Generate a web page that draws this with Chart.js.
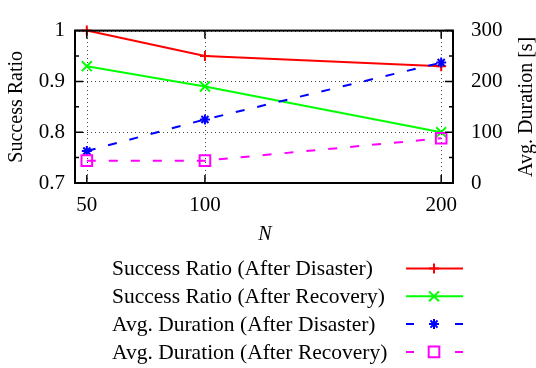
<!DOCTYPE html>
<html>
<head>
<meta charset="utf-8">
<script src="https://cdn.jsdelivr.net/npm/chart.js@4/dist/chart.umd.min.js"></script>
<style>
  body { margin: 0; background: #fff; }
  #wrap { width: 536px; height: 368px; }
</style>
</head>
<body>
<div id="wrap"><canvas id="chart" width="536" height="368"></canvas></div>
<script>
// values
const nValues = [50, 100, 200];
const ratioDisaster = [1.0, 0.95, 0.93];
const ratioRecovery = [0.93, 0.89, 0.80];
const durationDisaster = [63, 125, 237];
const durationRecovery = [44, 44, 88];

const xTicks = [50, 100, 200];
const ratioTicks = [0.7, 0.8, 0.9, 1];
const ratioMinor = [0.75, 0.85, 0.95];
const durationTicks = [0, 100, 200, 300];
const durationMinor = [50, 150, 250];

const seriesLabels = [
  'Success Ratio (After Disaster)',
  'Success Ratio (After Recovery)',
  'Avg. Duration (After Disaster)',
  'Avg. Duration (After Recovery)'
];

const FONT = '"Liberation Serif", "Times New Roman", serif';

function points(ys) {
  return nValues.map(function (n, i) { return { x: n, y: ys[i] }; });
}

function fixTicks(values) {
  return function (scale) {
    scale.ticks = values.map(function (v) { return { value: v }; });
  };
}

// gnuplot style marker, used for the legend samples
function drawMarker(ctx, style, r, x, y) {
  ctx.beginPath();
  if (style === 'cross' || style === 'star') {
    ctx.moveTo(x - r, y); ctx.lineTo(x + r, y);
    ctx.moveTo(x, y - r); ctx.lineTo(x, y + r);
  }
  if (style === 'crossRot' || style === 'star') {
    var d = r * Math.SQRT1_2;
    ctx.moveTo(x - d, y - d); ctx.lineTo(x + d, y + d);
    ctx.moveTo(x - d, y + d); ctx.lineTo(x + d, y - d);
  }
  if (style === 'rect') {
    var s = r * Math.SQRT1_2;
    ctx.rect(x - s, y - s, 2 * s, 2 * s);
  }
  ctx.stroke();
}

var gnuFrame = {
  id: 'gnuFrame',
  beforeDatasetsDraw: function (chart) {
    var ctx = chart.ctx, a = chart.chartArea;
    var sx = chart.scales.x, sy = chart.scales.y;
    ctx.save();
    ctx.strokeStyle = '#444';
    ctx.lineWidth = 1;
    ctx.setLineDash([1, 3]);
    xTicks.forEach(function (v) {
      var px = Math.round(sx.getPixelForValue(v)) + 0.5;
      ctx.beginPath(); ctx.moveTo(px, a.bottom); ctx.lineTo(px, a.top); ctx.stroke();
    });
    ratioTicks.forEach(function (v) {
      var py = Math.round(sy.getPixelForValue(v)) + 0.5;
      ctx.beginPath(); ctx.moveTo(a.left, py); ctx.lineTo(a.right, py); ctx.stroke();
    });
    ctx.restore();
  },
  afterDatasetsDraw: function (chart) {
    var ctx = chart.ctx, a = chart.chartArea;
    var sx = chart.scales.x, sy = chart.scales.y, sy1 = chart.scales.y1;
    ctx.save();
    ctx.strokeStyle = '#000';
    ctx.lineWidth = 1.5;
    ctx.setLineDash([]);
    ctx.beginPath();
    xTicks.forEach(function (v) {
      var px = sx.getPixelForValue(v);
      ctx.moveTo(px, a.bottom); ctx.lineTo(px, a.bottom - 8);
      ctx.moveTo(px, a.top); ctx.lineTo(px, a.top + 8);
    });
    ratioTicks.forEach(function (v) {
      var py = sy.getPixelForValue(v);
      ctx.moveTo(a.left, py); ctx.lineTo(a.left + 8, py);
    });
    ratioMinor.forEach(function (v) {
      var py = sy.getPixelForValue(v);
      ctx.moveTo(a.left, py); ctx.lineTo(a.left + 4, py);
    });
    durationTicks.forEach(function (v) {
      var py = sy1.getPixelForValue(v);
      ctx.moveTo(a.right, py); ctx.lineTo(a.right - 8, py);
    });
    durationMinor.forEach(function (v) {
      var py = sy1.getPixelForValue(v);
      ctx.moveTo(a.right, py); ctx.lineTo(a.right - 4, py);
    });
    ctx.stroke();
    ctx.lineWidth = 2;
    ctx.strokeRect(a.left, a.top, a.right - a.left, a.bottom - a.top);
    ctx.restore();
  },
  afterDraw: function (chart) {
    var ctx = chart.ctx, a = chart.chartArea;
    var midY = (a.top + a.bottom) / 2;
    ctx.save();
    ctx.fillStyle = '#000';
    ctx.textAlign = 'center';
    ctx.textBaseline = 'middle';

    ctx.font = '20px ' + FONT;
    ctx.save();
    ctx.translate(17, midY);
    ctx.rotate(-Math.PI / 2);
    ctx.fillText('Success Ratio', 0, 0);
    ctx.restore();

    ctx.save();
    ctx.translate(527, midY);
    ctx.rotate(-Math.PI / 2);
    ctx.fillText('Avg. Duration [s]', 0, 0);
    ctx.restore();

    ctx.font = 'italic 20px ' + FONT;
    ctx.fillText('N', (a.left + a.right) / 2 + 1, 235);

    // legend: text on the left, line sample on the right
    ctx.font = '21.5px ' + FONT;
    ctx.textAlign = 'left';
    chart.data.datasets.forEach(function (ds, i) {
      var y = 268.5 + i * 27.8;
      ctx.fillStyle = '#000';
      ctx.fillText(ds.label, 112, y + 1);
      ctx.strokeStyle = ds.borderColor;
      ctx.lineWidth = 2;
      ctx.setLineDash(ds.legendDash || []);
      ctx.beginPath(); ctx.moveTo(406, y); ctx.lineTo(463, y); ctx.stroke();
      ctx.setLineDash([]);
      ctx.lineWidth = ds.pointBorderWidth;
      drawMarker(ctx, ds.pointStyle, ds.pointRadius, 434, y);
    });
    ctx.restore();
  }
};

function series(label, axis, ys, color, style, radius, dash, order) {
  return {
    label: label,
    yAxisID: axis,
    data: points(ys),
    borderColor: color,
    backgroundColor: color,
    borderWidth: 2,
    borderDash: dash || [],
    legendDash: dash ? [8, 41] : [],
    pointStyle: style,
    pointRadius: radius,
    pointBorderWidth: 2,
    pointBorderColor: color,
    pointBackgroundColor: 'rgba(0,0,0,0)',
    tension: 0,
    clip: false,
    order: order
  };
}

var tickFont = { family: FONT, size: 21 };

new Chart(document.getElementById('chart'), {
  type: 'line',
  data: {
    datasets: [
      series(seriesLabels[0], 'y', ratioDisaster, '#ff0000', 'cross', 5, null, 4),
      series(seriesLabels[1], 'y', ratioRecovery, '#00ff00', 'crossRot', 7, null, 3),
      series(seriesLabels[2], 'y1', durationDisaster, '#0000ff', 'star', 5, [9, 13], 2),
      series(seriesLabels[3], 'y1', durationRecovery, '#ff00ff', 'rect', 7.5, [9, 13], 1)
    ]
  },
  options: {
    responsive: false,
    animation: false,
    devicePixelRatio: 1,
    layout: { padding: { top: 14, bottom: 145, left: 0, right: 0 } },
    plugins: { legend: { display: false }, tooltip: { enabled: false } },
    scales: {
      x: {
        type: 'linear',
        min: 45,
        max: 205,
        afterBuildTicks: fixTicks(xTicks),
        afterFit: function (s) { s.height = 40; },
        grid: { display: false, drawTicks: false },
        border: { display: false },
        ticks: { font: tickFont, color: '#000', padding: 10, maxRotation: 0 }
      },
      y: {
        position: 'left',
        min: 0.7,
        max: 1,
        afterBuildTicks: fixTicks(ratioTicks),
        afterFit: function (s) { s.width = 75; },
        grid: { display: false, drawTicks: false },
        border: { display: false },
        ticks: {
          font: tickFont, color: '#000', padding: 10,
          callback: function (v) { return String(Math.round(v * 10) / 10); }
        }
      },
      y1: {
        position: 'right',
        min: 0,
        max: 300,
        afterBuildTicks: fixTicks(durationTicks),
        afterFit: function (s) { s.width = 83; },
        grid: { display: false, drawTicks: false },
        border: { display: false },
        ticks: { font: tickFont, color: '#000', padding: 18 }
      }
    }
  },
  plugins: [gnuFrame]
});
</script>
</body>
</html>
